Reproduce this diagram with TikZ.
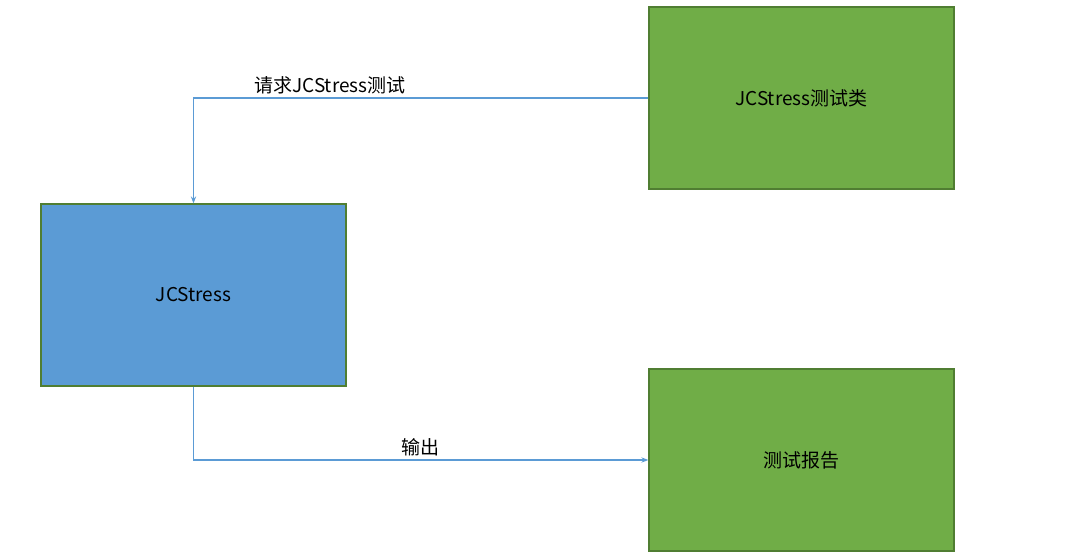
\documentclass[tikz,border=0pt]{standalone}
\usepackage{fontspec}
\setmainfont{Noto Sans CJK SC}
\usetikzlibrary{arrows.meta,positioning}
\definecolor{boxgreen}{HTML}{70AD47}
\definecolor{edgegreen}{HTML}{507E32}
\definecolor{boxblue}{HTML}{5B9BD5}
\definecolor{edgeblue}{HTML}{41719C}

\begin{document}
\begin{tikzpicture}[
  x=1pt, y=-1pt,
  box/.style={draw, line width=1.2pt, minimum width=305pt,
    minimum height=182pt, font=\fontsize{19}{23}\selectfont},
  arr/.style={-{Stealth[length=7pt]}, draw=boxblue, line width=1.2pt},
  lbl/.style={font=\fontsize{19}{23}\selectfont}
]
  \useasboundingbox (0,0) rectangle (1080,555);
  \node[box, fill=boxgreen, draw=edgegreen] (testcls) at (801.5,98) {JCStress测试类};
  \node[box, fill=boxblue, draw=edgegreen] (jcs) at (193.5,295) {JCStress};
  \node[box, fill=boxgreen, draw=edgegreen] (report) at (801.5,460) {测试报告};

  \draw[arr] (testcls.west) -| node[lbl, pos=0.35, above] {请求JCStress测试} (jcs.north);
  \draw[arr] (jcs.south) |- node[lbl, pos=0.75, above] {输出} (report.west);
\end{tikzpicture}
\end{document}
